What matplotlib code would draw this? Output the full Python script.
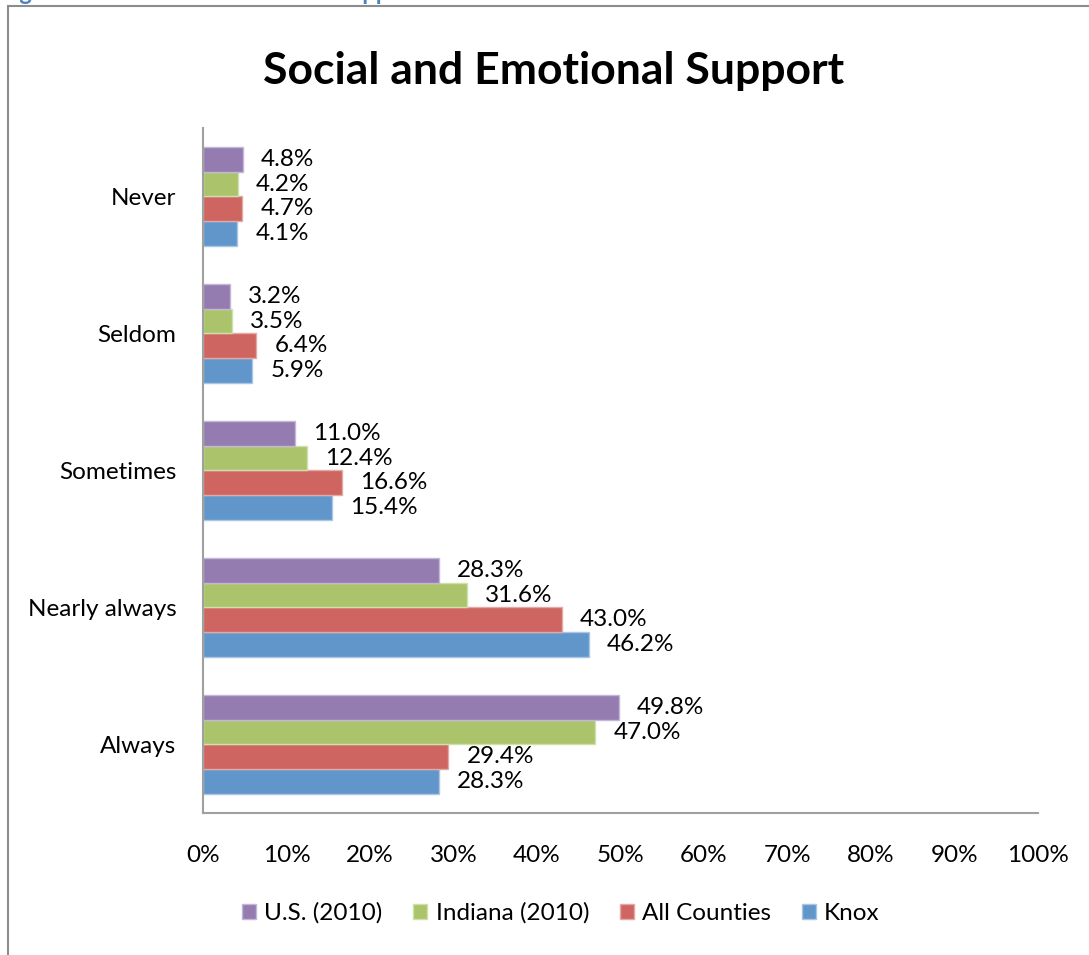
import matplotlib.pyplot as plt
import numpy as np
from matplotlib.patches import Rectangle
from matplotlib.ticker import PercentFormatter

plt.rcParams['font.family'] = ['Lato', 'DejaVu Sans']

categories = ['Always', 'Nearly always', 'Sometimes', 'Seldom', 'Never']
series = ['Knox', 'All Counties', 'Indiana (2010)', 'U.S. (2010)']
knox = [28.3, 46.2, 15.4, 5.9, 4.1]
all_counties = [29.4, 43.0, 16.6, 6.4, 4.7]
indiana = [47.0, 31.6, 12.4, 3.5, 4.2]
us = [49.8, 28.3, 11.0, 3.2, 4.8]
colors = ['#6196CB', '#CE6560', '#ABC46B', '#947CB1']
edges = ['#A9C6E4', '#E4A9A6', '#CFDFAE', '#C3B6D6']

fig = plt.figure(figsize=(10.89, 9.55), dpi=100)
ax = fig.add_axes([0.1864, 0.1487, 0.7668, 0.7173])

# chart frame (cut off on right and bottom like the screenshot)
fig.patches.append(Rectangle((0.0073, -0.02), 1.05, 0.9937 + 0.02, transform=fig.transFigure,
                             fill=False, edgecolor='#8C8C8C', linewidth=1.5))
fig.text(0.0, 1.0, 'Figure 39: Social and Emotional Support', color='#4F81BD', fontsize=17,
         fontweight='bold', va='baseline', ha='left')

y = np.arange(len(categories))
h = 0.18
for i, (vals, lab) in enumerate(zip([knox, all_counties, indiana, us], series)):
    rect = ax.barh(y + (i - 1.5) * h, vals, h, color=colors[i], edgecolor=edges[i],
                   linewidth=1, label=lab)
    ax.bar_label(rect, labels=['%.1f%%' % v for v in vals], padding=13, fontsize=17.5)

ax.set_xlim(0, 100)
ax.set_ylim(-0.5, 4.5)
ax.set_xticks(np.arange(0, 101, 10))
ax.xaxis.set_major_formatter(PercentFormatter(decimals=0))
ax.set_yticks(y, categories)
ax.tick_params(axis='x', length=0, pad=23, labelsize=17.5)
ax.tick_params(axis='y', length=0, pad=19, labelsize=17.5)
for s in ['top', 'right']:
    ax.spines[s].set_visible(False)
for s in ['left', 'bottom']:
    ax.spines[s].set_color('#A0A0A0')
    ax.spines[s].set_linewidth(1.5)

ax.set_title('Social and Emotional Support', fontsize=32, fontweight='bold',
             x=0.42, pad=32)

handles, labels = ax.get_legend_handles_labels()
fig.legend(handles[::-1], labels[::-1], loc='center', bbox_to_anchor=(0.515, 0.044),
           ncol=4, frameon=False, fontsize=17.5, handlelength=0.58, handleheight=0.58,
           handletextpad=0.35, columnspacing=1.25)

fig.savefig('out.png', dpi=100)
